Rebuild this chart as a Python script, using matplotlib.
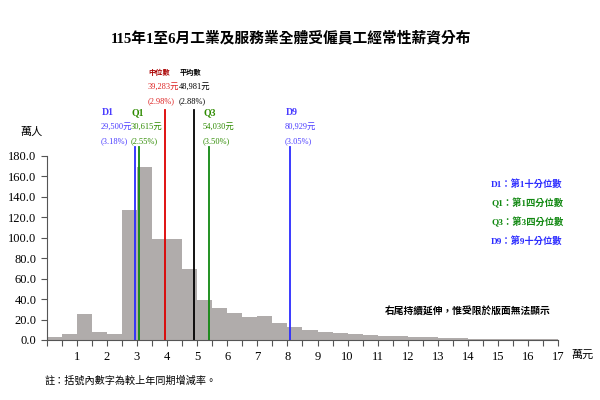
import matplotlib
matplotlib.use('Agg')
import matplotlib.pyplot as plt
import numpy as np

plt.rcParams['font.family'] = ['Liberation Serif', 'Noto Sans CJK TC', 'DejaVu Sans']
CJK = ['Liberation Serif', 'Noto Sans CJK TC']

# 每 0.5 萬元一組的人數（萬人）
bin_width = 0.5
bin_starts = np.arange(0, 17, bin_width)
counts = [3.2, 6.2, 25.4, 8.1, 6.2, 126.6, 168.6, 98.3, 98.3, 69.7,
          39.4, 31.6, 26.2, 22.2, 23.4, 16.3, 12.7, 10.1, 8.2, 6.8,
          5.9, 4.9, 3.9, 3.6, 2.9, 2.6, 2.3, 1.6, 1.3, 1.3,
          1.0, 1.0, 0.7, 0.7]

# 分位數（元）與年增率
stat_names = ['D1', 'Q1', '中位數', '平均數', 'Q3', 'D9']
stat_values = [29500, 30615, 39283, 48981, 54030, 80929]
stat_changes = ['3.18%', '2.55%', '2.98%', '2.88%', '3.50%', '3.05%']
stat_colors = ['#2b2bff', '#118811', '#dd0000', '#000000', '#118811', '#2b2bff']
text_colors = ['#4a3cff', '#2e8b00', '#dd2222', '#000000', '#2e8b00', '#4a3cff']

legend_labels = ['D1：第1十分位數', 'Q1：第1四分位數', 'Q3：第3四分位數', 'D9：第9十分位數']
legend_colors = ['#2b2bff', '#118811', '#118811', '#2b2bff']

fig = plt.figure(figsize=(6, 4), dpi=100)
ax = fig.add_axes([0.0778, 0.15, 0.8527, 0.4608])

ax.bar(bin_starts, counts, width=bin_width, align='edge', color='#b0acab', edgecolor='none')

ax.set_xlim(0, 17)
ax.set_ylim(0, 180)
ax.set_yticks(np.arange(0, 181, 20))
ax.set_yticklabels(['%.1f' % v for v in np.arange(0, 181, 20)], fontsize=9)
ax.set_xticks(np.arange(0, 17.01, 0.5))
ax.set_xticklabels(['%d' % v if v == int(v) and v > 0 else '' for v in np.arange(0, 17.01, 0.5)],
                   fontsize=9)
ax.tick_params(axis='both', direction='out', length=4, width=0.8, color='#555555')
ax.tick_params(axis='x', pad=4)
for s in ['top', 'right']:
    ax.spines[s].set_visible(False)
for s in ['left', 'bottom']:
    ax.spines[s].set_color('#555555')

# 分位數垂直線與標示
line_tops = [188, 188, 225, 225, 188, 188]
text_x = [1.83, 2.83, 3.38, 4.42, 5.2, 7.93]
text_y0 = [222, 222, 261, 261, 222, 222]
for i, name in enumerate(stat_names):
    x = stat_values[i] / 10000
    ax.plot([x, x], [0, line_tops[i]], color=stat_colors[i], lw=1.3, clip_on=False)
    head_color = '#aa0000' if name == '中位數' else text_colors[i]
    head_size = 5.2 if name in ('中位數', '平均數') else 7
    ax.text(text_x[i], text_y0[i], name, color=head_color, fontsize=head_size, fontweight='bold',
            ha='left', va='center', family=CJK, clip_on=False)
    ax.text(text_x[i] - 0.03, text_y0[i] - 14, '{:,}元'.format(stat_values[i]), color=text_colors[i],
            fontsize=6, ha='left', va='center', family=CJK, clip_on=False)
    ax.text(text_x[i] - 0.03, text_y0[i] - 28, '(%s)' % stat_changes[i], color=text_colors[i],
            fontsize=6, ha='left', va='center', family=CJK, clip_on=False)

# 右側圖例
for i, lab in enumerate(legend_labels):
    fig.text(491 / 600, 1 - (184 + 19 * i) / 400, lab, color=legend_colors[i], fontsize=6.7,
             fontweight='bold', ha='left', va='center', family=CJK)

fig.text(291 / 600, 1 - 38 / 400, '115年1至6月工業及服務業全體受僱員工經常性薪資分布', fontsize=10.6,
         fontweight='bold', ha='center', va='center', family=CJK)
fig.text(20 / 600, 1 - 132 / 400, '萬人', fontsize=8, ha='left', va='center', family=CJK)
fig.text(571 / 600, 1 - 355 / 400, '萬元', fontsize=8, ha='left', va='center', family=CJK)
fig.text(385 / 600, 1 - 312 / 400, '右尾持續延伸，惟受限於版面無法顯示', fontsize=7,
         fontweight='bold', ha='left', va='center', family=CJK)
fig.text(45 / 600, 1 - 381 / 400, '註：括號內數字為較上年同期增減率。', fontsize=7.3,
         ha='left', va='center', family=CJK)

fig.savefig('out.png', dpi=100)
